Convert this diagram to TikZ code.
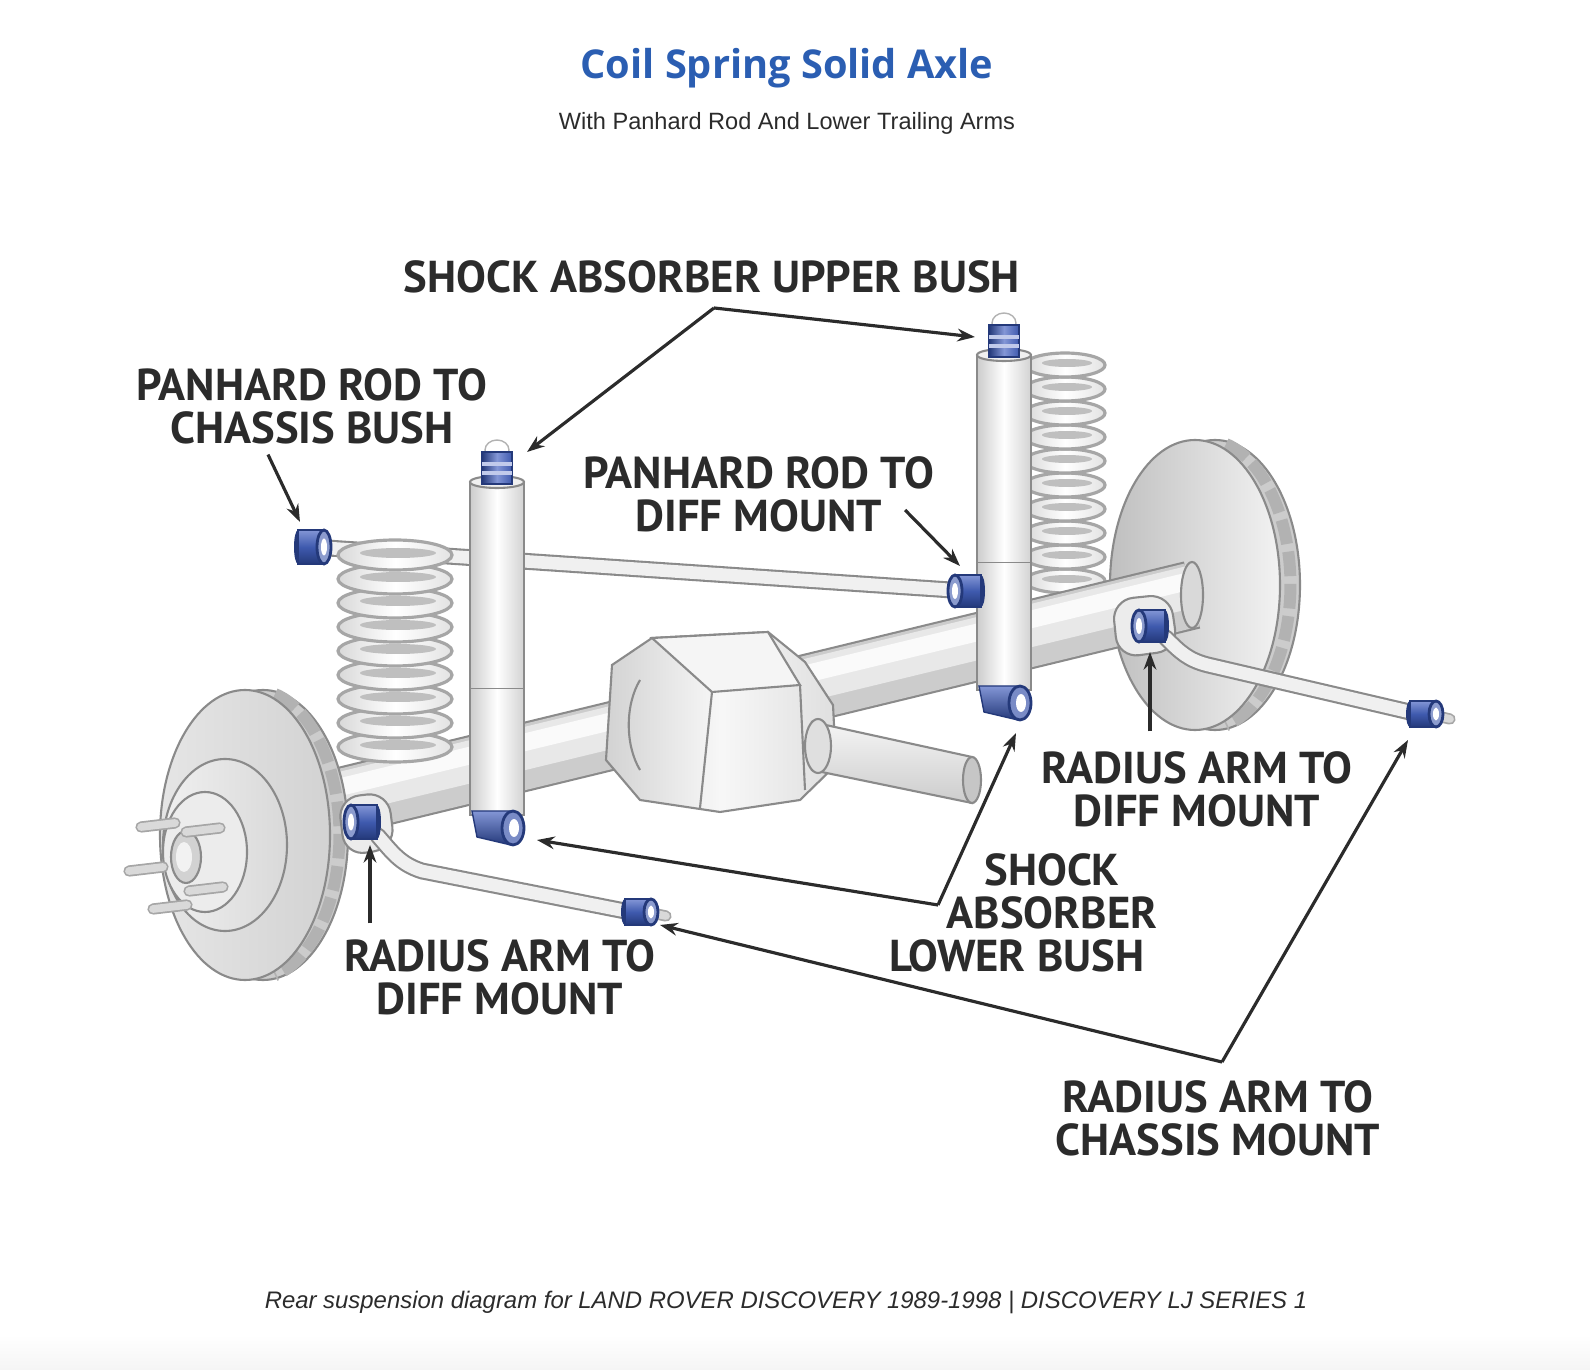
\documentclass[tikz,border=0pt]{standalone}
\usepackage{fontspec}
\setmainfont{Liberation Sans}
\newfontfamily\titlefont{Open Sans}
\newfontfamily\calloutfont{PT Sans}
\usetikzlibrary{arrows.meta}
\definecolor{titleblue}{HTML}{2B5EB2}
\definecolor{inkgray}{HTML}{2B2B2B}
\definecolor{bushblue}{HTML}{3F5AAE}
\definecolor{bushdark}{HTML}{24397A}
\definecolor{bushlite}{HTML}{8396D6}
\definecolor{steeldark}{HTML}{8A8A8A}
% blue bush: centre x, centre y, half height, side of the open end (1 or -1)
\newcommand{\bush}[4]{%
  \fill[bushdark] ({#1-15*(#4)},#2) ellipse (4 and #3);
  \shadedraw[draw=bushdark, line width=0.5pt, top color=bushlite, bottom color=bushdark, middle color=bushblue]
    ({#1-15*(#4)},{#2-#3}) -- ({#1+11*(#4)},{#2-#3}) -- ({#1+11*(#4)},{#2+#3}) -- ({#1-15*(#4)},{#2+#3}) -- cycle;
  \filldraw[fill=bushblue!60, draw=bushdark, line width=0.8pt] ({#1+11*(#4)},#2) ellipse (7 and #3);
  \fill[white] ({#1+11*(#4)},#2) ellipse (3 and {0.5*#3});}

\begin{document}
\begin{tikzpicture}[x=0.01cm, y=-0.01cm,
    metal/.style={draw=steeldark, line width=0.6pt},
    coil/.style={draw=gray!70, line width=0.9pt, left color=gray!30, right color=gray!22, middle color=white},
    rod/.style={draw=steeldark, line width=0.6pt, double=gray!12, double distance=3.6pt, line cap=round},
    stud/.style={draw=gray!70, line width=0.5pt, double=gray!30, double distance=2.2pt, line cap=round},
    callout/.style={font=\calloutfont\bfseries\fontsize{12.7}{12.3}\selectfont, text=inkgray, align=center, inner sep=0pt},
    pointer/.style={draw=inkgray, line width=0.9pt, -{Stealth[length=5pt,width=3.6pt]}}]
	\useasboundingbox (0,0) rectangle (1590,1370);
	\shade[top color=white, bottom color=gray!8] (0,1335) rectangle (1590,1370);

	\node[font=\titlefont\bfseries\fontsize{11.3}{13}\selectfont, text=titleblue] (title) at (787,68) {Coil Spring Solid Axle};
	\node[font=\fontsize{6.7}{8}\selectfont, text=inkgray] (subtitle) at (787,123) {With Panhard Rod And Lower Trailing Arms};
	\node[font=\itshape\fontsize{6.8}{8}\selectfont, text=inkgray] (caption) at (786,1302) {Rear suspension diagram for LAND ROVER DISCOVERY 1989-1998 | DISCOVERY LJ SERIES 1};

	% right disc
	\filldraw[metal, fill=gray!40] (1215,585) ellipse (85 and 145);
	\draw[gray!60, line width=3.4pt, dash pattern=on 7pt off 2.2pt] (1226,444) arc[start angle=-76, end angle=76, x radius=85, y radius=145];
	\shadedraw[metal, left color=gray!50, right color=gray!10] (1195,585) ellipse (85 and 145);

	% right spring
	\foreach \k in {9,...,0} {
		\shade[coil] (1065,365+24*\k) ellipse (40 and 12);
		\fill[gray!50] (1067,363+24*\k) ellipse (25 and 4);}

	% panhard rod
	\coordinate (panL) at (313,547);
	\coordinate (panR) at (966,591);
	\draw[rod] (panL) -- (panR);

	% axle tube
	\coordinate (axleL) at (327,805);
	\coordinate (axleR) at (1192,595);
	\draw[line width=19.6pt, steeldark] (axleL) -- (axleR);
	\draw[line width=18.4pt, gray!40] (axleL) -- (axleR);
	\draw[line width=12pt, gray!18] ([shift={(-2,-8)}]axleL) -- ([shift={(-2,-8)}]axleR);
	\draw[line width=5pt, gray!4] ([shift={(-3,-14)}]axleL) -- ([shift={(-3,-14)}]axleR);
	\filldraw[metal, fill=gray!30] (axleR) ellipse (11 and 33);

	% differential
	\shadedraw[metal, left color=gray!35, right color=gray!25, middle color=gray!6]
		(612,665) -- (652,638) -- (768,632) -- (805,662) -- (833,705) -- (836,765) -- (800,800) -- (720,812) -- (640,800) -- (606,760) -- cycle;
	\filldraw[metal, fill=gray!8] (652,638) -- (768,632) -- (800,685) -- (712,692) -- cycle;
	\draw[metal] (712,692) -- (700,808);
	\draw[metal] (800,685) -- (805,790);
	\draw[metal] (640,680) .. controls (625,705) and (625,745) .. (640,770);
	\shadedraw[metal, top color=gray!8, bottom color=gray!40] (812,722) -- (972,757) -- (972,803) -- (812,770) -- cycle;
	\filldraw[metal, fill=gray!45] (972,780) ellipse (9 and 23);
	\filldraw[metal, fill=gray!25] (818,746) ellipse (13 and 27);

	% left spring
	\foreach \k in {8,...,0} {
		\shade[coil] (395,555+24*\k) ellipse (57 and 15);
		\fill[gray!50] (398,553+24*\k) ellipse (38 and 5);}

	% shock absorbers
	\foreach \sx/\top/\bot/\ty in {1004/355/690/313, 497/482/815/440} {
		\shadedraw[metal, left color=gray!40, right color=gray!35, middle color=white] (\sx-27,\top) rectangle (\sx+27,\bot);
		\draw[steeldark, line width=0.4pt] (\sx-27,{\top+0.62*(\bot-\top)}) -- (\sx+27,{\top+0.62*(\bot-\top)});
		\filldraw[metal, fill=gray!12] (\sx,\top) ellipse (27 and 6);
		\filldraw[fill=white, draw=gray!60] (\sx,\ty+10) ellipse (12 and 10);
		\shadedraw[draw=bushdark, line width=0.4pt, left color=bushdark, right color=bushblue, middle color=bushlite] (\sx-15,\ty+12) rectangle (\sx+15,\ty+44);
		\draw[bushlite!50, line width=1pt] (\sx-15,\ty+24) -- (\sx+15,\ty+24) (\sx-15,\ty+33) -- (\sx+15,\ty+33);
		\shadedraw[draw=bushdark, top color=bushlite, bottom color=bushdark] (\sx-25,\bot-4) -- (\sx+14,\bot-4) -- (\sx+14,\bot+30) -- (\sx-20,\bot+22) -- cycle;
		\filldraw[fill=bushblue!70, draw=bushdark, line width=0.8pt] (\sx+16,\bot+13) ellipse (11 and 17);
		\fill[white] (\sx+17,\bot+13) ellipse (5 and 9);}

	% left disc and hub
	\filldraw[metal, fill=gray!40] (263,835) ellipse (85 and 145);
	\draw[gray!60, line width=3.4pt, dash pattern=on 7pt off 2.2pt] (275,694) arc[start angle=-76, end angle=76, x radius=85, y radius=145];
	\shadedraw[metal, left color=gray!20, right color=gray!35] (245,835) ellipse (85 and 145);
	\shadedraw[metal, left color=gray!12, right color=gray!30] (225,845) ellipse (62 and 86);
	\filldraw[metal, fill=gray!15] (205,852) ellipse (42 and 60);
	\filldraw[metal, fill=gray!35] (186,857) ellipse (15 and 26);
	\fill[gray!10] (184,857) ellipse (8 and 15);
	\foreach \bx/\by in {220/828, 175/823, 163/867, 187/905, 223/887}
		\draw[stud] (\bx,\by) -- ++(-34,4);

	% radius arms
	\filldraw[metal, fill=gray!15, rounded corners=6pt] (338,798) -- (388,792) -- (395,848) -- (345,856) -- cycle;
	\filldraw[metal, fill=gray!15, rounded corners=6pt] (1112,600) -- (1170,594) -- (1178,650) -- (1118,658) -- cycle;
	\draw[rod] (378,836) .. controls (392,852) and (400,864) .. (422,871) -- (630,912);
	\draw[rod] (1166,638) .. controls (1180,652) and (1188,660) .. (1208,665) -- (1414,713);
	\draw[stud] (652,913) -- (666,916);
	\draw[stud] (1437,716) -- (1450,719);

	% bushes
	\bush{313}{547}{17}{1}
	\bush{966}{591}{16}{-1}
	\bush{362}{822}{17}{-1}
	\bush{1150}{626}{16}{-1}
	\bush{640}{912}{13}{1}
	\bush{1425}{714}{13}{1}

	% callouts
	\node[callout] (lblUpper) at (712,277) {SHOCK ABSORBER UPPER BUSH};
	\node[callout] (lblPanChassis) at (312,406) {PANHARD ROD TO\\CHASSIS BUSH};
	\node[callout] (lblPanDiff) at (759,494) {PANHARD ROD TO\\DIFF MOUNT};
	\node[callout] (lblRadDiffR) at (1197,789) {RADIUS ARM TO\\DIFF MOUNT};
	\node[callout] (lblShockLower) at (1052,913) {SHOCK\\ABSORBER\\LOWER BUSH\hspace*{20pt}};
	\node[callout] (lblRadDiffL) at (500,977) {RADIUS ARM TO\\DIFF MOUNT};
	\node[callout] (lblRadChassis) at (1218,1118) {RADIUS ARM TO\\CHASSIS MOUNT};

	\coordinate (tipUpperL) at (527,452);
	\coordinate (tipUpperR) at (975,337);
	\coordinate (tipPanChassis) at (300,522);
	\coordinate (tipPanDiff) at (960,566);
	\coordinate (tipRadDiffR) at (1150,652);
	\coordinate (tipRadDiffL) at (370,845);
	\coordinate (cornerShock) at (938,905);
	\coordinate (tipShockL) at (537,840);
	\coordinate (tipShockR) at (1016,733);
	\coordinate (cornerRad) at (1222,1062);
	\coordinate (tipRadL) at (660,925);
	\coordinate (tipRadR) at (1408,740);

	\draw[pointer] (lblUpper.south) ++(2,14) coordinate (apexUpper) -- (tipUpperL);
	\draw[pointer] (apexUpper) -- (tipUpperR);
	\draw[pointer] (lblPanChassis.south) ++(-44,10) -- (tipPanChassis);
	\draw[pointer] (lblPanDiff.east) ++(-30,16) -- (tipPanDiff);
	\draw[pointer] (lblRadDiffR.north) ++(-47,-19) -- (tipRadDiffR);
	\draw[pointer] (lblRadDiffL.north) ++(-130,-15) -- (tipRadDiffL);
	\draw[pointer] (cornerShock) -- (tipShockL);
	\draw[pointer] (cornerShock) -- (tipShockR);
	\draw[pointer] (cornerRad) -- (tipRadL);
	\draw[pointer] (cornerRad) -- (tipRadR);
\end{tikzpicture}
\end{document}
